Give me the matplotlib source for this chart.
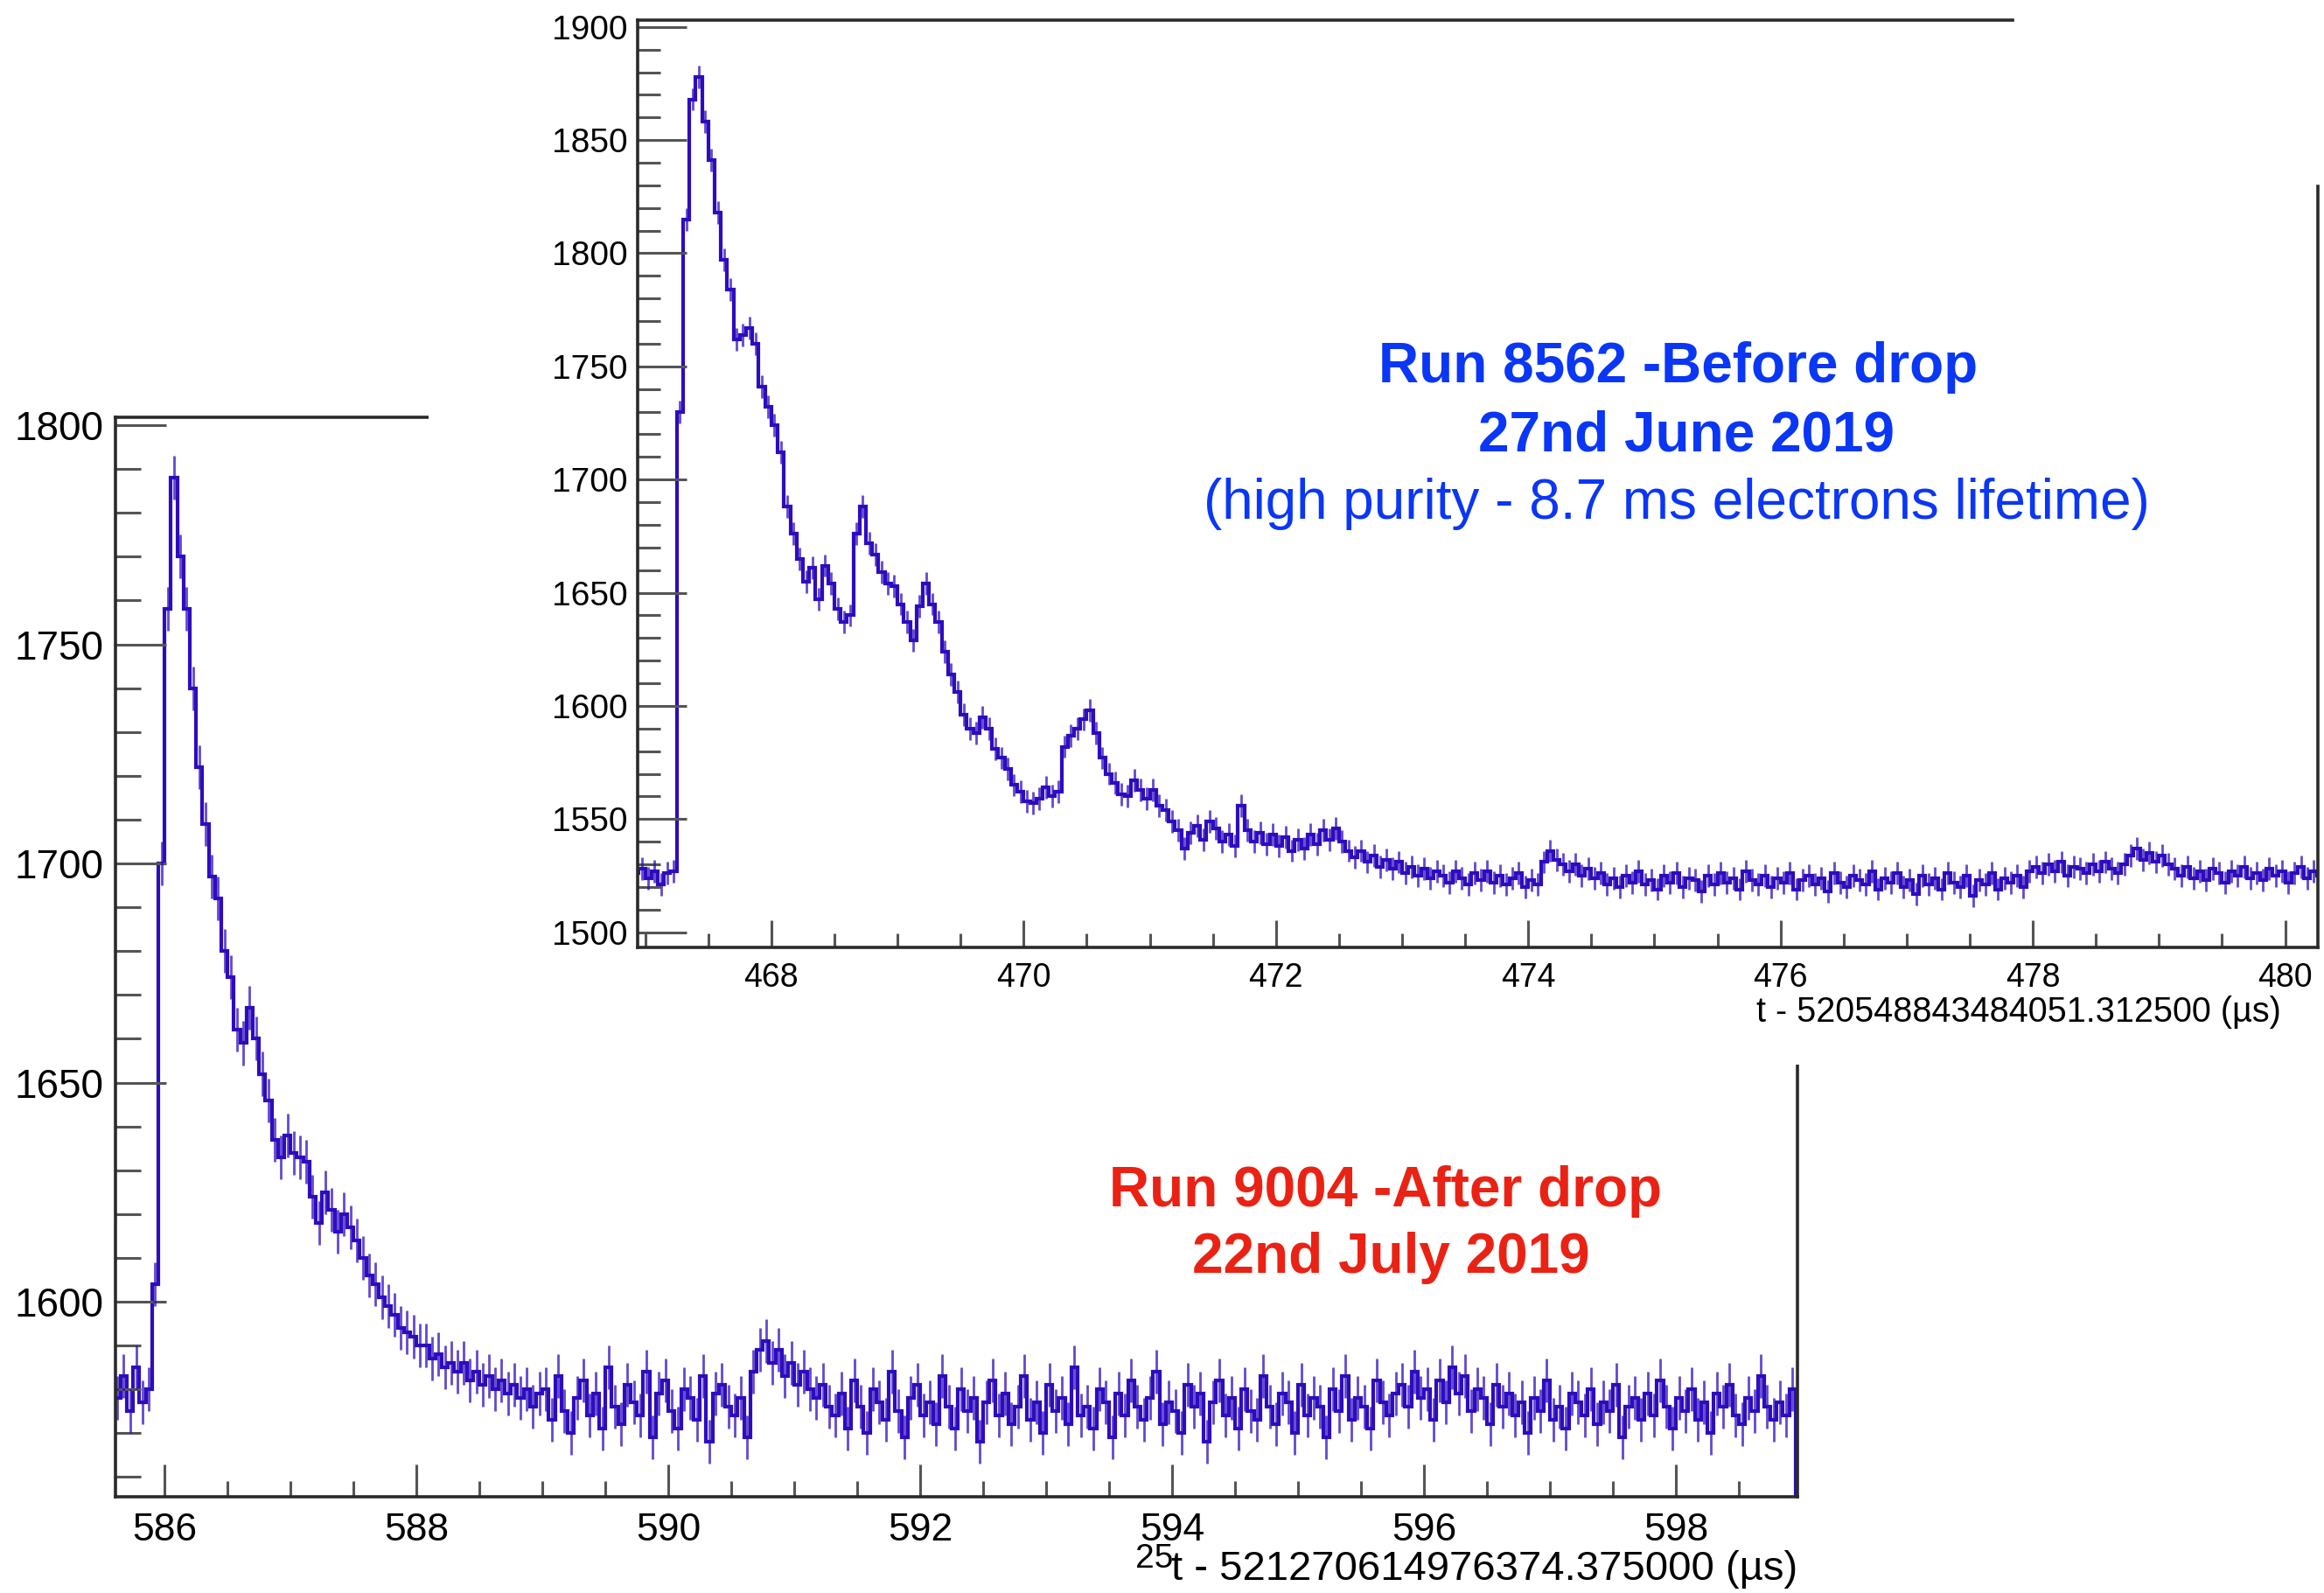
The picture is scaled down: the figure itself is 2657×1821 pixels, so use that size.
"""Two ROOT waveforms (before / after purity drop) laid over each other as on the slide."""
import matplotlib
matplotlib.use("Agg")
import matplotlib.pyplot as plt
import numpy as np
from matplotlib.ticker import MultipleLocator

W, H = 2657, 1821
BIN_W = 0.05
ERR = 5  # per-bin error bar half-length (ADC)

# Run 9004 - after drop: bin contents, 0.05 us bins starting at 585.60
after_start = 585.60
after_vals = [
    1578, 1583, 1575, 1585, 1577, 1580, 1604, 1700, 1758, 1788,
    1770, 1758, 1740, 1722, 1709, 1697, 1692, 1680, 1674, 1662,
    1659, 1667, 1660, 1652, 1646, 1637, 1633, 1638, 1634, 1633,
    1632, 1624, 1618, 1625, 1621, 1616, 1620, 1617, 1614, 1610,
    1606, 1604, 1601, 1599, 1597, 1594, 1593, 1592, 1590, 1590,
    1587, 1588, 1585, 1586, 1584, 1586, 1582, 1584, 1581, 1583,
    1580, 1582, 1579, 1581, 1578, 1580, 1576, 1579,
    # 589.00 - 590.55
    1580, 1573, 1583, 1575, 1570, 1578, 1582, 1574, 1579, 1571,
    1585, 1576, 1572, 1581, 1577, 1574, 1584, 1569, 1579, 1582,
    1575, 1571, 1580, 1578, 1573, 1583, 1568, 1579, 1581, 1576,
    1574, 1578,
    # 590.60 - 591.25 (small bump)
    1569, 1584, 1589, 1591, 1586, 1589, 1583, 1586, 1581, 1584,
    1580, 1578, 1581, 1576,
    # 591.30 - 598.90
    1574, 1579, 1571, 1582, 1576, 1570, 1580, 1577, 1573, 1584,
    1575, 1569, 1578, 1581, 1574, 1577, 1572, 1583, 1576, 1571,
    1580, 1575, 1578, 1568, 1577, 1582, 1574, 1579, 1572, 1576,
    1583, 1573, 1577, 1570, 1581, 1575, 1578, 1572, 1585, 1574,
    1576, 1571, 1580, 1577, 1569, 1579, 1574, 1582, 1576, 1573,
    1578, 1584, 1572, 1577, 1575, 1570, 1581, 1576, 1579, 1568,
    1577, 1582, 1574, 1578, 1571, 1580, 1575, 1573, 1583, 1576,
    1572, 1579, 1577, 1570, 1581, 1574, 1578, 1576, 1569, 1580,
    1575, 1583, 1573, 1578, 1576, 1571, 1582, 1577, 1574, 1579,
    1581, 1576, 1584, 1578, 1580, 1573, 1582, 1577, 1585, 1579,
    1583, 1575, 1580, 1578, 1572, 1581, 1576, 1579, 1574, 1577,
    1570, 1578, 1575, 1582, 1573, 1576, 1571, 1579, 1577, 1574,
    1580, 1572, 1577, 1575, 1581, 1569, 1576, 1578, 1573, 1579,
    1574, 1582, 1576, 1571, 1578, 1575, 1580, 1573, 1577, 1570,
    1579, 1576, 1581, 1574, 1572, 1578, 1575, 1583, 1576, 1573,
    1577, 1574, 1580,
]

# Run 8562 - before drop: bin contents, 0.05 us bins starting at 466.90
before_start = 466.90
before_vals = [
    1526, 1528, 1524, 1527, 1521, 1526, 1527, 1730, 1815, 1868,
    1878, 1858, 1841, 1818, 1797, 1784, 1762, 1764, 1767, 1760,
    1741, 1732, 1724, 1712, 1688, 1676, 1665, 1655, 1661, 1647,
    1662, 1654, 1643, 1637, 1640, 1676, 1688, 1672, 1667, 1659,
    1654, 1653, 1645, 1637, 1629, 1644, 1654, 1645, 1637, 1624,
    1614, 1606, 1596, 1590, 1588, 1595, 1590, 1581, 1577, 1572,
    1565, 1562, 1558, 1557, 1559, 1564, 1560, 1562, 1582, 1587,
    1590, 1594, 1598, 1588, 1577, 1570, 1566, 1561, 1560, 1567,
    1563, 1559, 1563, 1556, 1554, 1549, 1545, 1537, 1544, 1547,
    1541, 1549, 1546, 1540, 1543, 1538, 1556, 1545, 1540, 1544,
    1539, 1543, 1538, 1542, 1536, 1541, 1537, 1543, 1539, 1545,
    1541, 1546, 1540, 1536, 1533, 1536, 1531, 1534, 1529, 1532,
    1528, 1531, 1526, 1529, 1525, 1528, 1524, 1527, 1525, 1522,
    1527, 1524, 1521, 1526, 1523, 1527, 1522, 1525, 1521, 1524,
    1526, 1520, 1523, 1521, 1531, 1536, 1532, 1530, 1527, 1530,
    1525, 1528, 1524,
    # 474.55 - 477.95
    1526, 1521, 1524, 1520, 1525, 1522, 1527, 1521, 1523, 1519,
    1525, 1522, 1526, 1520, 1524, 1523, 1518, 1525, 1521, 1526,
    1522, 1524, 1519, 1527, 1523, 1521, 1525, 1520, 1524, 1522,
    1526, 1519, 1523, 1525, 1521, 1524, 1518, 1526, 1522, 1520,
    1525, 1523, 1521, 1527, 1519, 1524, 1522, 1526, 1520, 1523,
    1517, 1525, 1521, 1524, 1519, 1526, 1522, 1520, 1525, 1516,
    1523, 1521, 1526, 1519, 1524, 1522, 1525, 1520, 1527,
    # 478.00 - 478.70
    1529, 1526, 1530, 1527, 1531, 1525, 1529, 1528, 1526, 1530,
    1527, 1531, 1528, 1526, 1530,
    # 478.75 - 479.05
    1534, 1537, 1532, 1535, 1531, 1534, 1530,
    # 479.10 - 480.25
    1528, 1525, 1529, 1524, 1527, 1523, 1528, 1526, 1522, 1527,
    1525, 1529, 1524, 1526, 1523, 1528, 1525, 1527, 1522, 1526,
    1529, 1524, 1527, 1525,
]

after_xlabel = "t - 521270614976374.375000 (µs)"
before_xlabel = "t - 520548843484051.312500 (µs)"

HIST = "#2e0cbe"
BLUE = "#0a36f5"
RED = "#ea2214"
FRAME = "#2a2a2a"
TICK = "#555555"

plt.rcParams["font.family"] = ["Liberation Sans", "DejaVu Sans"]


def box(l, t, r, b):
    return [l / W, 1 - b / H, (r - l) / W, (b - t) / H]


def px(x, y):
    return x / W, 1 - y / H


def draw_hist(ax, start, vals):
    vals = np.asarray(vals, dtype=float)
    edges = start + BIN_W * np.arange(len(vals) + 1)
    ax.stairs(vals, edges, color=HIST, linewidth=3.0)
    centers = 0.5 * (edges[:-1] + edges[1:])
    ax.vlines(centers, vals - ERR, vals + ERR, color=HIST, linewidth=2.0, alpha=0.75)


def root_style(ax, ymaj, ymin_len, xmaj, xmin_len, ysize, xsize, ypad, xpad):
    ax.xaxis.set_major_locator(MultipleLocator(2))
    ax.xaxis.set_minor_locator(MultipleLocator(0.5))
    ax.yaxis.set_major_locator(MultipleLocator(50))
    ax.yaxis.set_minor_locator(MultipleLocator(10))
    ax.tick_params(which="both", direction="in", top=False, right=False,
                   color=TICK, width=2.2)
    ax.tick_params(axis="y", which="major", length=ymaj, labelsize=ysize, pad=ypad)
    ax.tick_params(axis="y", which="minor", length=ymin_len)
    ax.tick_params(axis="x", which="major", length=xmaj, labelsize=xsize, pad=xpad)
    ax.tick_params(axis="x", which="minor", length=xmin_len)
    for s in ax.spines.values():
        s.set_linewidth(2.6)
        s.set_color(FRAME)


fig = plt.figure(figsize=(W / 100, H / 100), dpi=100)

# lower histogram (after drop)
ax_a = fig.add_axes(box(132, 477, 2055, 1711), zorder=1)
draw_hist(ax_a, after_start, after_vals)
ax_a.set_xlim(585.61, 598.965)
ax_a.set_ylim(1555.5, 1801.8)
root_style(ax_a, 42, 21, 27, 13, 33, 32, 10, 13)

# white slide picture on top of it
cover = fig.add_axes(box(490, 0, W, 1217), zorder=2)
cover.set_xticks([])
cover.set_yticks([])
for s in cover.spines.values():
    s.set_visible(False)
cover.set_facecolor("white")

# upper histogram (before drop)
ax_b = fig.add_axes(box(729, 23, 2650, 1083), zorder=3)
ax_b.set_facecolor("none")
draw_hist(ax_b, before_start, before_vals)
ax_b.set_xlim(466.94, 480.26)
ax_b.set_ylim(1493.3, 1903.0)
root_style(ax_b, 40, 19, 22, 11.5, 28, 27, 8, 12)
ax_b.spines["top"].set_bounds(466.94, 477.84)
ax_b.spines["right"].set_bounds(1493.3, 1829.5)

fig.text(*px(2608, 1157), before_xlabel, fontsize=28.5, ha="right", va="center", zorder=10)
fig.text(*px(2055, 1794), after_xlabel, fontsize=34, ha="right", va="center", zorder=10)

fig.text(*px(1919, 420), "Run 8562 -Before drop", color=BLUE, fontsize=46,
         fontweight="bold", ha="center", va="center", zorder=10)
fig.text(*px(1928, 498), "27nd June 2019", color=BLUE, fontsize=46,
         fontweight="bold", ha="center", va="center", zorder=10)
fig.text(*px(1917, 576), "(high purity - 8.7 ms electrons lifetime)", color=BLUE,
         fontsize=46, ha="center", va="center", zorder=10)

fig.text(*px(1584, 1362), "Run 9004 -After drop", color=RED, fontsize=46,
         fontweight="bold", ha="center", va="center", zorder=10)
fig.text(*px(1590, 1438), "22nd July 2019", color=RED, fontsize=46,
         fontweight="bold", ha="center", va="center", zorder=10)

fig.text(*px(1320, 1782), "25", fontsize=28, ha="center", va="center", zorder=11)

fig.savefig("out.png", dpi=100, facecolor="white")
